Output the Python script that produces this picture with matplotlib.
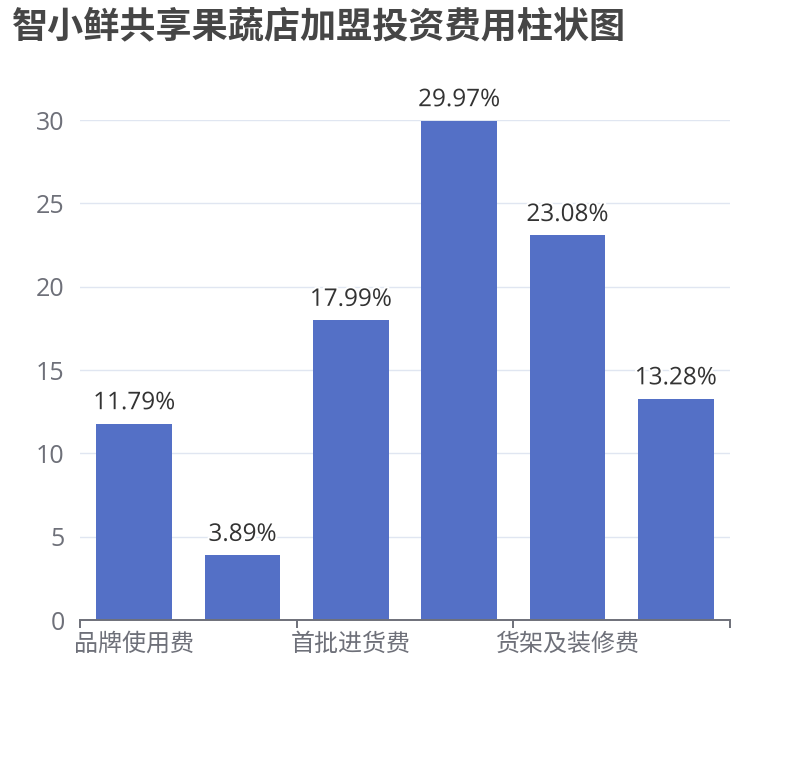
import matplotlib
matplotlib.use('Agg')
import matplotlib.pyplot as plt
import matplotlib.patheffects as pe
import numpy as np

plt.rcParams['font.family'] = ['Open Sans', 'Noto Sans CJK SC', 'DejaVu Sans']

title = '智小鲜共享果蔬店加盟投资费用柱状图'
# 第2、4、6个类目名称在原图中被隐藏（间隔显示）
categories = ['品牌使用费', '加盟保证金', '首批进货费', '店面租金', '货架及装修费', '其他费用']
values = [11.79, 3.89, 17.99, 29.97, 23.08, 13.28]
y_ticks = [0, 5, 10, 15, 20, 25, 30]

W, H = 810, 760
fig = plt.figure(figsize=(W / 100, H / 100), dpi=100)
ax = fig.add_axes([80 / W, (H - 620) / H, 650 / W, 500 / H])

x = np.arange(len(categories))
ax.bar(x, values, width=0.7, color='#5470C6', zorder=3)

for xi, v in zip(x, values):
    ax.annotate(f'{v:.2f}%', (xi, v), xytext=(0, 6), textcoords='offset points',
                ha='center', va='bottom', fontsize=17.5, color='#333333', zorder=4,
                path_effects=[pe.withStroke(linewidth=3, foreground='white')])

ax.set_xlim(-0.5, len(categories) - 0.5)
ax.set_ylim(0, 30)
ax.set_yticks(y_ticks)
ax.set_yticklabels([str(t) for t in y_ticks])
ax.grid(axis='y', color='#E0E6F1', linewidth=1, zorder=0)
ax.tick_params(axis='y', length=0, pad=11, labelsize=18, labelcolor='#6E7079')

# 只显示每隔一个的类目标签，刻度线在类目之间
ax.set_xticks(x[::2])
ax.set_xticklabels(categories[::2], family=['Noto Sans CJK SC', 'DejaVu Sans'])
ax.set_xticks(np.arange(-0.5, len(categories), 2), minor=True)
ax.tick_params(axis='x', which='major', length=0, pad=8, labelsize=17.3, labelcolor='#6E7079')
ax.tick_params(axis='x', which='minor', length=6, width=1.4, color='#6E7079')

for s in ['left', 'right', 'top']:
    ax.spines[s].set_visible(False)
ax.spines['bottom'].set_color('#6E7079')
ax.spines['bottom'].set_linewidth(1.4)
ax.spines['bottom'].set_zorder(5)

fig.text(12 / W, 1 - 8 / H, title, ha='left', va='top', fontsize=26, fontweight='bold',
         color='#464646', family=['Noto Sans CJK SC', 'DejaVu Sans'])

fig.savefig('out.png', dpi=100)
